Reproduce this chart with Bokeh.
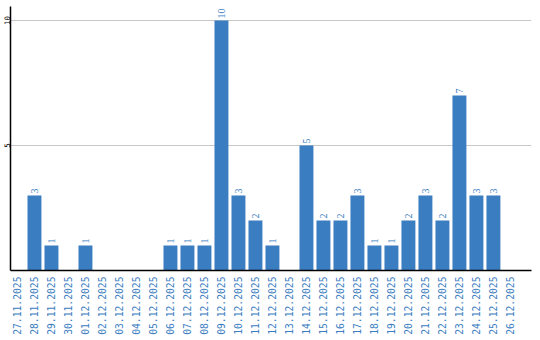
import math
from bokeh.plotting import figure
from bokeh.models import ColumnDataSource, FixedTicker, Range1d, LabelSet
from bokeh.embed import file_html
from bokeh.resources import INLINE

dates = ["27.11.2025", "28.11.2025", "29.11.2025", "30.11.2025", "01.12.2025",
         "02.12.2025", "03.12.2025", "04.12.2025", "05.12.2025", "06.12.2025",
         "07.12.2025", "08.12.2025", "09.12.2025", "10.12.2025", "11.12.2025",
         "12.12.2025", "13.12.2025", "14.12.2025", "15.12.2025", "16.12.2025",
         "17.12.2025", "18.12.2025", "19.12.2025", "20.12.2025", "21.12.2025",
         "22.12.2025", "23.12.2025", "24.12.2025", "25.12.2025", "26.12.2025"]
counts = [0, 3, 1, 0, 1, 0, 0, 0, 0, 1, 1, 1, 10, 3, 2, 1, 0, 5, 2, 2,
          3, 1, 1, 2, 3, 2, 7, 3, 3, 0]
y_ticks = [5, 10]

BLUE = "#3b7dc1"
FONT = "DejaVu Sans Mono"
X0, X1 = -0.41, 30.24

idx = list(range(len(dates)))
src = ColumnDataSource(dict(x=idx, y=counts))
nz = [i for i, c in enumerate(counts) if c > 0]
lab = ColumnDataSource(dict(x=[idx[i] for i in nz], y=[counts[i] for i in nz],
                            t=[str(counts[i]) for i in nz]))

p = figure(width=540, height=340, output_backend="svg", toolbar_location=None,
           x_range=Range1d(X0, X1), y_range=Range1d(0, 10.56),
           min_border_left=10, min_border_right=9, min_border_top=6, min_border_bottom=70)
p.outline_line_color = None
p.background_fill_color = "white"

p.vbar(x="x", top="y", bottom=0, width=0.82, source=src, fill_color=BLUE, line_color=None)
p.add_layout(LabelSet(x="x", y="y", text="t", source=lab, angle=math.pi / 2,
                      y_offset=2, text_align="left", text_baseline="middle",
                      text_color=BLUE, text_font=FONT, text_font_size="10px"))

p.xgrid.grid_line_color = None
p.ygrid.grid_line_color = "#c8c8c8"
p.ygrid.grid_line_width = 1

xa = p.xaxis[0]
xa.ticker = FixedTicker(ticks=idx)
xa.major_label_overrides = {i: d for i, d in enumerate(dates)}
xa.major_label_orientation = math.pi / 2
xa.major_label_text_color = BLUE
xa.major_label_text_font = FONT
xa.major_label_text_font_size = "9.7px"
xa.major_label_standoff = 6
xa.major_tick_out = 0
xa.major_tick_in = 0
xa.minor_tick_out = 0
xa.minor_tick_in = 0
xa.axis_line_color = "black"
xa.axis_line_width = 1.5

ya = p.yaxis[0]
ya.ticker = FixedTicker(ticks=y_ticks)
ya.major_label_orientation = "parallel"
ya.major_label_text_color = "black"
ya.major_label_text_font = FONT
ya.major_label_text_font_size = "7.5px"
ya.major_label_standoff = 1
ya.major_tick_out = 0
ya.major_tick_in = 0
ya.minor_tick_out = 0
ya.minor_tick_in = 0
ya.axis_line_color = "black"
ya.axis_line_width = 1.5

open("out.html", "w").write(file_html(p, INLINE))
